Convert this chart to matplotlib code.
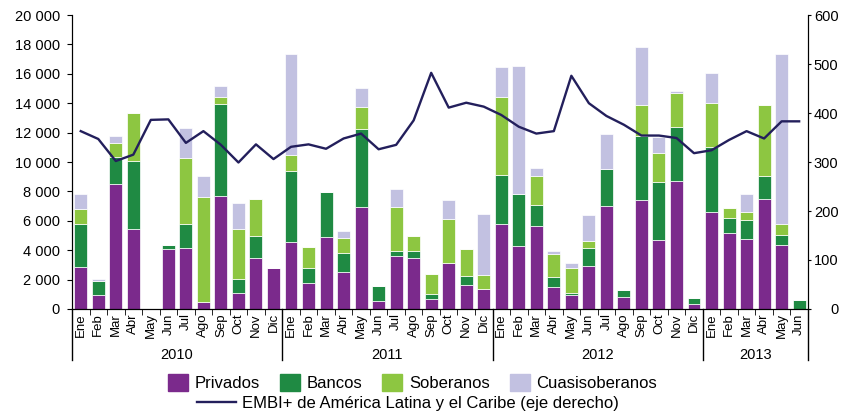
import matplotlib.pyplot as plt
from matplotlib.patches import Patch
from matplotlib.lines import Line2D
import numpy as np

plt.rcParams['font.family'] = ['Liberation Sans', 'DejaVu Sans']

meses = ['Ene', 'Feb', 'Mar', 'Abr', 'May', 'Jun', 'Jul', 'Ago', 'Sep', 'Oct', 'Nov', 'Dic']
months = meses * 3 + meses[:6]
years = ['2010', '2011', '2012', '2013']

# millones de dolares, ene 2010 - jun 2013
privados = [2830, 930, 8520, 5450, 0, 4110, 4180, 470, 7710, 1060, 3440, 2760,
            4560, 1740, 4930, 2550, 6940, 560, 3620, 3440, 680, 3140, 1630, 1340,
            5810, 4290, 5650, 1510, 970, 2940, 7000, 810, 7440, 4700, 8680, 360,
            6620, 5170, 4730, 7480, 4320, 0]
bancos = [2980, 990, 1810, 4600, 0, 230, 1580, 0, 6210, 990, 1560, 0,
          4840, 1060, 3020, 1270, 5330, 1000, 310, 490, 340, 0, 630, 0,
          3300, 3530, 1400, 660, 140, 1220, 2510, 500, 4360, 3930, 3700, 390,
          4380, 1020, 1330, 1540, 720, 610]
soberanos = [970, 0, 990, 3310, 0, 0, 4520, 7140, 480, 3390, 2500, 0,
             1110, 1420, 0, 1020, 1470, 0, 2990, 1020, 1350, 2980, 1810, 990,
             5280, 0, 1990, 1600, 1690, 470, 0, 0, 2050, 1990, 2310, 0,
             2990, 700, 520, 4860, 770, 0]
cuasi = [1020, 150, 480, 0, 0, 0, 2010, 1470, 790, 1750, 0, 0,
         6820, 0, 0, 490, 1290, 0, 1240, 0, 0, 1270, 0, 4130,
         2040, 8700, 520, 160, 340, 1790, 2420, 0, 3960, 1110, 140, 0,
         2060, 0, 1260, 0, 11550, 0]
embi = [363, 347, 302, 315, 386, 387, 339, 363, 335, 299, 336, 306,
        331, 336, 327, 348, 358, 326, 335, 385, 482, 411, 421, 413,
        396, 372, 358, 363, 476, 420, 394, 376, 354, 354, 349, 318,
        324, 345, 363, 348, 383, 383]

c_priv = '#7B2A8C'
c_banc = '#1F8A43'
c_sob = '#8DC641'
c_cuasi = '#C2C1E1'
c_line = '#231F5C'

x = np.arange(len(months))
w = 0.74

fig = plt.figure(figsize=(8.42, 4.17), dpi=100)
ax = fig.add_axes([0.0855, 0.259, 0.874, 0.705])

b1 = np.array(privados)
b2 = b1 + np.array(bancos)
b3 = b2 + np.array(soberanos)
ax.bar(x, privados, w, color=c_priv, edgecolor='white', linewidth=0.5, zorder=2)
ax.bar(x, bancos, w, bottom=b1, color=c_banc, edgecolor='white', linewidth=0.5, zorder=2)
ax.bar(x, soberanos, w, bottom=b2, color=c_sob, edgecolor='white', linewidth=0.5, zorder=2)
ax.bar(x, cuasi, w, bottom=b3, color=c_cuasi, edgecolor='white', linewidth=0.5, zorder=2)

ax.set_xlim(-0.5, len(months) - 0.5)
ax.set_ylim(0, 20000)
ax.set_yticks(range(0, 20001, 2000))
ax.set_yticklabels(['{:,}'.format(v).replace(',', ' ') for v in range(0, 20001, 2000)])
ax.tick_params(axis='y', labelsize=10.5, length=3.6, direction='out', pad=5)

ax.set_xticks(x)
ax.set_xticklabels(months, rotation=90, fontsize=9.5)
ax.tick_params(axis='x', length=0, pad=3)
ax.set_xticks(np.arange(-0.5, len(months), 1), minor=True)
ax.tick_params(axis='x', which='minor', length=4, direction='out')

ax.spines['top'].set_visible(False)
ax.spines['bottom'].set_zorder(3)

# separadores de anio y etiquetas
bounds = [-0.5, 11.5, 23.5, 35.5, 41.5]
for b in bounds:
    ax.plot([b, b], [0, -0.175], transform=ax.get_xaxis_transform(),
            color='black', linewidth=1, clip_on=False)
for i, yr in enumerate(years):
    ax.text((bounds[i] + bounds[i + 1]) / 2, -0.155, yr, transform=ax.get_xaxis_transform(),
            ha='center', va='center', fontsize=10.5)

ax2 = ax.twinx()
ax2.plot(x, embi, color=c_line, linewidth=1.7, zorder=4)
ax2.set_ylim(0, 600)
ax2.set_yticks(range(0, 601, 100))
ax2.tick_params(axis='y', labelsize=10.5, length=2.5, direction='out', pad=19.5)
for lbl in ax2.get_yticklabels():
    lbl.set_horizontalalignment('right')
ax2.spines['top'].set_visible(False)

h1 = [Patch(color=c_priv), Patch(color=c_banc), Patch(color=c_sob), Patch(color=c_cuasi)]
fig.legend(h1, ['Privados', 'Bancos', 'Soberanos', 'Cuasisoberanos'], ncol=4,
           loc='center', bbox_to_anchor=(0.49, 0.082), frameon=False, fontsize=12,
           handlelength=1.2, handleheight=1.2, handletextpad=0.4, columnspacing=1.2)
fig.legend([Line2D([], [], color=c_line, linewidth=1.7)],
           ['EMBI+ de América Latina y el Caribe (eje derecho)'],
           loc='center', bbox_to_anchor=(0.485, 0.033), frameon=False, fontsize=12,
           handlelength=2.3, handletextpad=0.4)

fig.savefig('out.png', dpi=100)
